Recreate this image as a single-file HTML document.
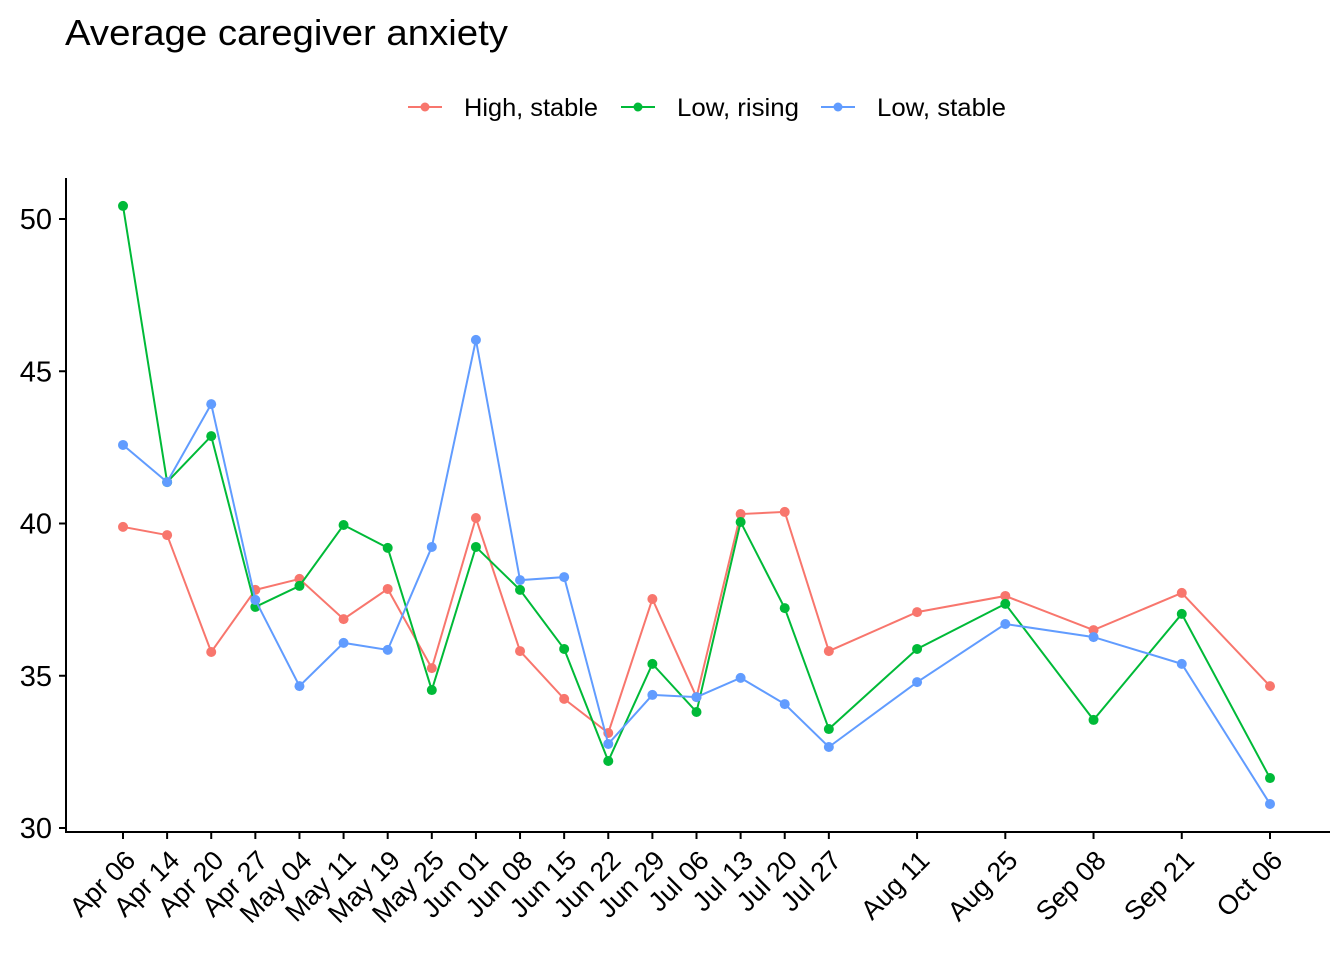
<!DOCTYPE html>
<html><head><meta charset="utf-8"><style>
html,body{margin:0;padding:0;background:#fff;}
svg{display:block;font-family:"Liberation Sans",Arial,sans-serif;}
</style></head><body>
<svg id="chart" width="1344" height="960">
<text x="65" y="45" font-size="36" textLength="443" lengthAdjust="spacingAndGlyphs" fill="#000">Average caregiver anxiety</text>
<g>
<g><line x1="408" y1="107" x2="442" y2="107" stroke="#F8766D" stroke-width="2"/><circle cx="425" cy="107" r="4.5" fill="#F8766D"/><text x="464" y="116" font-size="25" textLength="134" lengthAdjust="spacingAndGlyphs">High, stable</text></g>
<g><line x1="621" y1="107" x2="655" y2="107" stroke="#00BA38" stroke-width="2"/><circle cx="638" cy="107" r="4.5" fill="#00BA38"/><text x="677" y="116" font-size="25" textLength="122" lengthAdjust="spacingAndGlyphs">Low, rising</text></g>
<g><line x1="821" y1="107" x2="855" y2="107" stroke="#619CFF" stroke-width="2"/><circle cx="838" cy="107" r="4.5" fill="#619CFF"/><text x="877" y="116" font-size="25" textLength="129" lengthAdjust="spacingAndGlyphs">Low, stable</text></g>
</g>
<g id="axes"></g>
<g id="series"></g>
</svg>
<script>
const categories=["Apr 06","Apr 14","Apr 20","Apr 27","May 04","May 11","May 19","May 25","Jun 01","Jun 08","Jun 15","Jun 22","Jun 29","Jul 06","Jul 13","Jul 20","Jul 27","Aug 11","Aug 25","Sep 08","Sep 21","Oct 06"];
const dayOffsets=[0,7,14,21,28,35,42,49,56,63,70,77,84,91,98,105,112,126,140,154,168,182];
const highStable=[39.89,39.62,35.78,37.82,38.18,36.86,37.85,35.25,40.18,35.81,34.24,33.12,37.52,34.30,40.31,40.38,35.81,37.09,37.62,36.50,37.72,34.66];
const lowRising=[50.43,41.36,42.87,37.26,37.95,39.95,39.20,34.53,39.23,37.82,35.88,32.20,35.39,33.81,40.05,37.22,33.25,35.88,37.36,33.55,37.03,31.64];
const lowStable=[42.58,41.36,43.92,37.49,34.66,36.08,35.85,39.23,46.03,38.14,38.24,32.76,34.37,34.30,34.93,34.07,32.66,34.79,36.70,36.27,35.39,30.79];
const yTicks=[30,35,40,45,50];
const NS="http://www.w3.org/2000/svg";
const xS=d=>123+d*(1147/182);
const yS=v=>828-(v-30)*30.45;
function mk(tag,attrs,parent){const e=document.createElementNS(NS,tag);for(const k in attrs)e.setAttribute(k,attrs[k]);parent.appendChild(e);return e;}
const axes=document.getElementById('axes');
const yAxis=mk('line',{x1:66,y1:178,x2:66,y2:833,stroke:'#000','stroke-width':2},axes);


const xAxis=mk('line',{x1:65,y1:832,x2:1330,y2:832,stroke:'#000','stroke-width':2},axes);


yTicks.forEach(t=>{
  mk('line',{x1:59,x2:66,y1:yS(t),y2:yS(t),stroke:'#000','stroke-width':2},axes);
  const tx=mk('text',{x:52,y:yS(t)+10,'font-size':29,'text-anchor':'end',fill:'#000'},axes);
  tx.textContent=t;
  
  
});
categories.forEach((c,i)=>{
  const x=xS(dayOffsets[i]);
  mk('line',{x1:x,x2:x,y1:832,y2:839,stroke:'#000','stroke-width':2},axes);
  const tx=mk('text',{x:x+14,y:862,'font-size':27,'text-anchor':'end',fill:'#000',transform:`rotate(-45 ${x+14} 862)`},axes);
  tx.textContent=c;
  
  
});
const series=document.getElementById('series');
[[highStable,'#F8766D','high-stable'],[lowRising,'#00BA38','low-rising'],[lowStable,'#619CFF','low-stable']].forEach(([vals,col,name])=>{
  const g=mk('g',{},series);
  
  
  const pts=vals.map((v,i)=>xS(dayOffsets[i])+','+yS(v)).join(' ');
  const pl=mk('polyline',{points:pts,fill:'none',stroke:col,'stroke-width':2},g);
  
  
  vals.forEach((v,i)=>{
    const c=mk('circle',{cx:xS(dayOffsets[i]),cy:yS(v),r:5,fill:col},g);
    
    
  });
});
</script>
</body></html>
